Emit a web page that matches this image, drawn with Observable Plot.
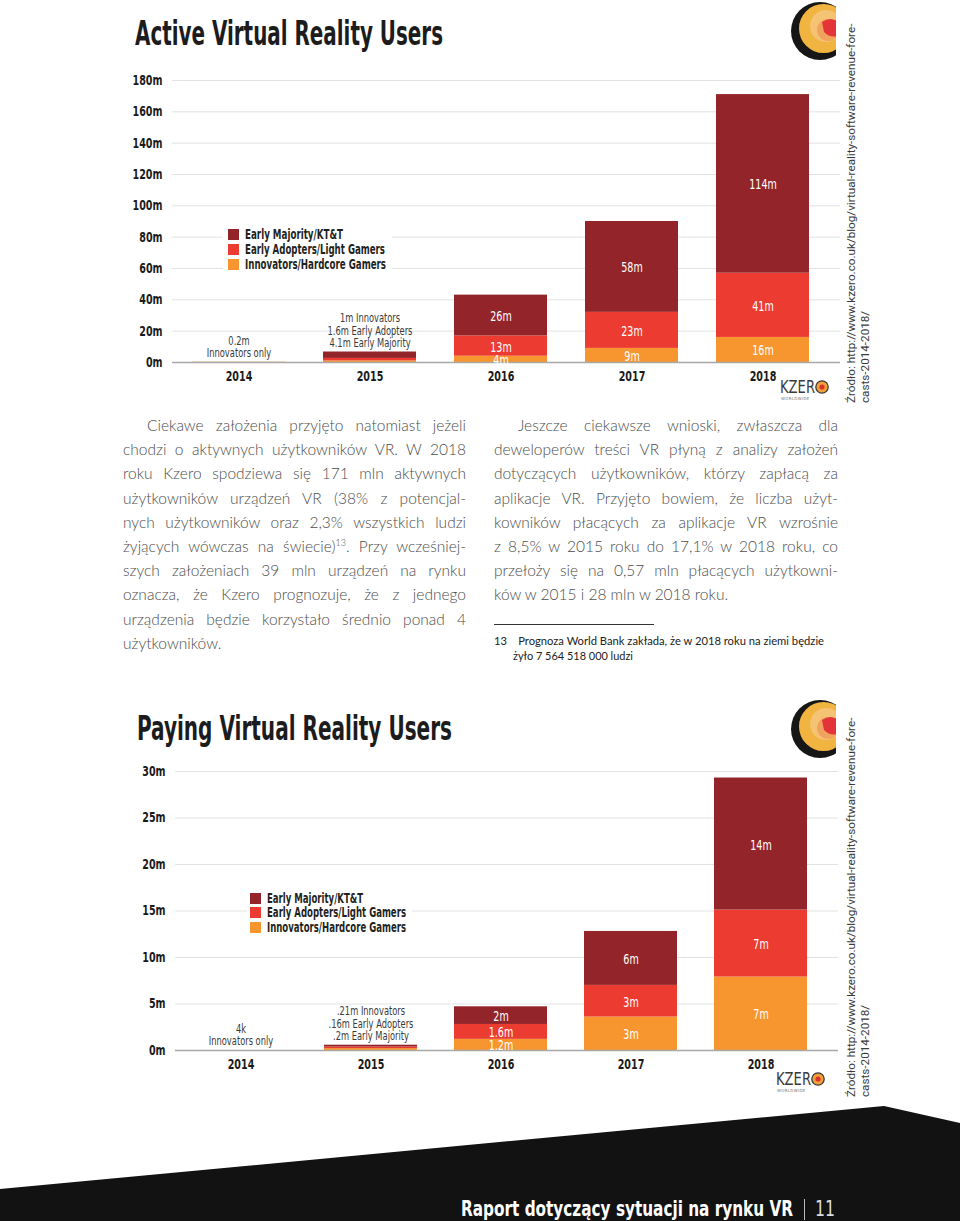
<!DOCTYPE html>
<html><head><meta charset="utf-8">
<script src="https://cdn.jsdelivr.net/npm/d3@7"></script>
<script src="https://cdn.jsdelivr.net/npm/@observablehq/plot@0.6"></script>
<style>
html,body{margin:0;padding:0;background:#fff;}
#page{position:relative;width:960px;height:1221px;overflow:hidden;background:#fff;}
.abs{position:absolute;}
.cond{font-family:"Liberation Sans Narrow","DejaVu Sans Condensed","Arial Narrow",sans-serif;}
.title{font-weight:bold;font-size:34px;color:#1c1c1c;white-space:nowrap;line-height:1;transform-origin:left center;}
.fit{display:inline-block;white-space:nowrap;transform-origin:left center;}
.legend{background:#fff;z-index:3;}
.legend .sw{position:absolute;width:11px;height:11px;}
.legend .lt{position:absolute;font-weight:bold;font-size:14px;color:#231f20;line-height:14px;}
.col{font-family:Lato,"Open Sans",sans-serif;font-weight:300;font-size:15.5px;color:#4d4d4d;line-height:24.2px;}
.col .ln{display:block;white-space:nowrap;height:24.2px;}
.col .ln span{display:inline-block;white-space:nowrap;}
.src{font-family:Roboto,"Open Sans",sans-serif;font-weight:400;font-size:11.7px;color:#3a3a3a;line-height:13.5px;transform-origin:left top;transform:rotate(-90deg);white-space:nowrap;}
.fn{font-family:Lato,sans-serif;font-weight:400;font-size:12px;color:#222;line-height:15px;white-space:nowrap;}
.chart{z-index:1;}
.kz{font-family:"DejaVu Sans Condensed","Liberation Sans Narrow",sans-serif;font-size:17px;color:#3a3a3a;line-height:1;z-index:3;}
.kzw{font-family:"DejaVu Sans",sans-serif;font-size:4px;color:#777;letter-spacing:0.3px;line-height:1;}
</style></head>
<body>
<div id="page"></div>
<script>
// ---------- DATA ----------
const years = ["2014", "2015", "2016", "2017", "2018"];
const series = ["Early Majority/KT&T", "Early Adopters/Light Gamers", "Innovators/Hardcore Gamers"];
const seriesColors = ["#93252a", "#ec3b31", "#f7962f"];
const stackOrder = ["Innovators/Hardcore Gamers", "Early Adopters/Light Gamers", "Early Majority/KT&T"];

// Active Virtual Reality Users (millions)
const activeInnovators = [0.2, 1, 4, 9, 16];
const activeAdopters = [0, 1.6, 13, 23, 41];
const activeMajority = [0, 4.1, 26, 58, 114];
const activeInnovatorLabels = ["", "", "4m", "9m", "16m"];
const activeAdopterLabels = ["", "", "13m", "23m", "41m"];
const activeMajorityLabels = ["", "", "26m", "58m", "114m"];
const activeTicks = [0, 20, 40, 60, 80, 100, 120, 140, 160, 180];
const activeNoteYears = ["2014", "2015"];
const activeNotes = ["0.2m\nInnovators only", "1m Innovators\n1.6m Early Adopters\n4.1m Early Majority"];

// Paying Virtual Reality Users (millions)
const payInnovators = [0.004, 0.21, 1.2, 3.6, 7.9];
const payAdopters = [0, 0.16, 1.6, 3.4, 7.2];
const payMajority = [0, 0.2, 1.9, 5.8, 14.2];
const payInnovatorLabels = ["", "", "1.2m", "3m", "7m"];
const payAdopterLabels = ["", "", "1.6m", "3m", "7m"];
const payMajorityLabels = ["", "", "2m", "6m", "14m"];
const payTicks = [0, 5, 10, 15, 20, 25, 30];
const payNoteYears = ["2014", "2015"];
const payNotes = ["4k\nInnovators only", ".21m Innovators\n.16m Early Adopters\n.2m Early Majority"];

const sourceLines = ["Źródło: http://www.kzero.co.uk/blog/virtual-reality-software-revenue-fore-", "casts-2014-2018/"];

// ---------- HELPERS ----------
const COND = '"Liberation Sans Narrow","DejaVu Sans Condensed","Arial Narrow",sans-serif';
const page = document.getElementById("page");
function el(tag, cls, css, html) {
  const e = document.createElement(tag);
  if (cls) e.className = cls;
  if (css) e.style.cssText = css;
  if (html != null) e.innerHTML = html;
  page.appendChild(e);
  return e;
}
function buildRows(inn, ad, maj, innL, adL, majL) {
  const rows = [];
  years.forEach((y, i) => {
    rows.push({year: y, series: series[2], value: inn[i], label: innL[i]});
    rows.push({year: y, series: series[1], value: ad[i], label: adL[i]});
    rows.push({year: y, series: series[0], value: maj[i], label: majL[i]});
  });
  return rows;
}
function squeeze(nodes, sx) {
  nodes.forEach(t => {
    const tr = t.getAttribute("transform") || "";
    t.setAttribute("transform", tr + ` scale(${sx},1)`);
  });
}
function chart(o) {
  const labeled = o.rows.filter(d => d.label);
  const totals = d3.rollup(o.rows, v => d3.sum(v, d => d.value), d => d.year);
  const notes = o.noteYears.map((y, i) => ({year: y, note: o.notes[i], total: totals.get(y)}));
  const svg = Plot.plot({
    width: 960, height: o.h,
    marginTop: o.mt, marginBottom: o.mb, marginLeft: o.ml, marginRight: o.mr,
    style: {fontFamily: COND, fontSize: "13px", overflow: "visible", background: "transparent"},
    x: {domain: years, paddingInner: o.pin, paddingOuter: o.pout, align: o.align, label: null},
    y: {domain: [0, o.ticks[o.ticks.length - 1]], label: null},
    color: {domain: series, range: seriesColors},
    marks: [
      Plot.ruleY(o.ticks.slice(1), {stroke: "#e2e2e2", strokeWidth: 1}),
      Plot.axisY(o.ticks, {tickSize: 0, tickPadding: o.tp, tickFormat: d => d + "m", fontWeight: "bold", fontSize: 14, fill: "#1a1a1a", label: null}),
      Plot.barY(o.rows, Plot.stackY({x: "year", y: "value", fill: "series", order: stackOrder})),
      Plot.ruleY([0], {stroke: "#a8a8a8", strokeWidth: 1.5}),
      Plot.text(labeled, Plot.stackY({x: "year", y: "value", z: "series", order: stackOrder, text: "label", fill: "white", fontSize: 14, dy: 1})),
      Plot.text(notes, {x: "year", y: "total", text: "note", lineAnchor: "bottom", dy: -5, fontSize: 12.5, lineHeight: 1, fill: "#3a3a3a"}),
      Plot.axisX({tickSize: 0, tickPadding: 9, fontWeight: "bold", fontSize: 14, fill: "#1a1a1a", label: null})
    ]
  });
  const textGroups = svg.querySelectorAll('g[aria-label="text"]');
  if (textGroups[0]) squeeze(textGroups[0].querySelectorAll("text"), 0.76);
  if (textGroups[1]) squeeze(textGroups[1].querySelectorAll("text"), 0.74);
  svg.querySelectorAll('g[aria-label$="tick label"] text').forEach(t => squeeze([t], 0.76));
  return svg;
}
function legend(x, y, w, h, sx, tx, rowsY, widths) {
  const L = el("div", "abs legend cond", `left:${x}px;top:${y}px;width:${w}px;height:${h}px;`);
  series.forEach((s, i) => {
    const sw = document.createElement("div");
    sw.className = "sw";
    sw.style.cssText = `left:${sx - x}px;top:${rowsY[i] - y - 5.5}px;background:${seriesColors[i]};`;
    L.appendChild(sw);
    const t = document.createElement("div");
    t.className = "lt fit";
    t.style.cssText = `left:${tx - x}px;top:${rowsY[i] - y - 7.5}px;`;
    t.dataset.w = widths[i];
    t.textContent = s;
    L.appendChild(t);
  });
}
function cornerLogo(top) {
  const s = `<svg width="52" height="62" viewBox="0 0 52 62"><defs><clipPath id="c${top}"><rect x="0" y="0" width="50" height="62"/></clipPath></defs>
  <g clip-path="url(#c${top})">
  <circle cx="34" cy="31" r="29" fill="#161616"/>
  <circle cx="37.5" cy="28.5" r="24.5" fill="#f2b441"/>
  <circle cx="40" cy="26" r="16" fill="#f6c98a" opacity="0.7"/>
  <circle cx="42" cy="30" r="11" fill="#f09a57" opacity="0.8"/>
  <path d="M36 22 Q45 16 52 22 L52 36 Q44 38 38 32 Z" fill="#e3343a"/>
  </g></svg>`;
  el("div", "abs", `left:786px;top:${top}px;width:52px;height:62px;`, s);
}
function kzero(x, y) {
  el("div", "abs kz fit", `left:${x}px;top:${y}px;`, "KZER").dataset.w = 35;
  el("div", "abs", `left:${x + 35}px;top:${y + 1}px;width:14px;height:14px;z-index:3;`,
    `<svg width="14" height="14"><circle cx="7" cy="7" r="6.2" fill="#f3a03a" stroke="#3a3a3a" stroke-width="1.3"/><circle cx="7" cy="7" r="2.6" fill="#d8342b"/></svg>`);
  el("div", "abs kzw", `left:${x + 1}px;top:${y + 18}px;`, "WORLDWIDE");
}

// ---------- CHART 1 ----------
el("div", "abs title cond fit", "left:135px;top:16px;", "Active Virtual Reality Users").dataset.w = 308;
const c1 = el("div", "abs chart", "left:0px;top:60px;");
c1.appendChild(chart({
  rows: buildRows(activeInnovators, activeAdopters, activeMajority, activeInnovatorLabels, activeAdopterLabels, activeMajorityLabels),
  noteYears: activeNoteYears, notes: activeNotes, ticks: activeTicks,
  h: 340, mt: 20, mb: 38, ml: 172, mr: 120, tp: 10, pin: 0.29, pout: 0.179, align: 0.385
}));
legend(223, 225, 169, 48, 228, 245, [234.5, 249.5, 264.5], [98, 140, 141]);
kzero(780, 379);
cornerLogo(0);

// ---------- CHART 2 ----------
el("div", "abs title cond fit", "left:137px;top:711px;", "Paying Virtual Reality Users").dataset.w = 315;
const c2 = el("div", "abs chart", "left:0px;top:750px;");
c2.appendChild(chart({
  rows: buildRows(payInnovators, payAdopters, payMajority, payInnovatorLabels, payAdopterLabels, payMajorityLabels),
  noteYears: payNoteYears, notes: payNotes, ticks: payTicks,
  h: 340, mt: 21, mb: 40, ml: 175, mr: 122, tp: 10, pin: 0.285, pout: 0.19, align: 0.374
}));
legend(247, 888, 165, 50, 250, 267, [898, 912, 927.5], [96, 139, 139]);
kzero(776, 1071);
cornerLogo(698);

// ---------- SOURCE (rotated) ----------
el("div", "abs src", "left:845px;top:403px;", sourceLines.join("<br>"));
el("div", "abs src", "left:845px;top:1097px;", sourceLines.join("<br>"));

// ---------- BODY TEXT ----------
const leftLines = [
  "Ciekawe założenia przyjęto natomiast jeżeli",
  "chodzi o aktywnych użytkowników VR. W 2018",
  "roku Kzero spodziewa się 171 mln aktywnych",
  "użytkowników urządzeń VR (38% z potencjal-",
  "nych użytkowników oraz 2,3% wszystkich ludzi",
  "żyjących wówczas na świecie)<sup style=\"font-size:9px;position:relative;top:-6px;vertical-align:baseline;\">13</sup>. Przy wcześniej-",
  "szych założeniach 39 mln urządzeń na rynku",
  "oznacza, że Kzero prognozuje, że z jednego",
  "urządzenia będzie korzystało średnio ponad 4",
  "użytkowników."
];
const rightLines = [
  "Jeszcze ciekawsze wnioski, zwłaszcza dla",
  "deweloperów treści VR płyną z analizy założeń",
  "dotyczących użytkowników, którzy zapłacą za",
  "aplikacje VR. Przyjęto bowiem, że liczba użyt-",
  "kowników płacących za aplikacje VR wzrośnie",
  "z 8,5% w 2015 roku do 17,1% w 2018 roku, co",
  "przełoży się na 0,57 mln płacących użytkowni-",
  "ków w 2015 i 28 mln w 2018 roku."
];
function column(x, w, lines) {
  const c = el("div", "abs col", `left:${x}px;top:413px;width:${w}px;`);
  lines.forEach((t, i) => {
    const ln = document.createElement("div");
    ln.className = "ln";
    const sp = document.createElement("span");
    sp.innerHTML = t;
    if (i === 0) sp.style.marginLeft = "24px";
    ln.appendChild(sp);
    c.appendChild(ln);
    sp.dataset.just = i === lines.length - 1 ? "0" : String(w - (i === 0 ? 24 : 0));
  });
}
column(123, 343, leftLines);
column(494, 344, rightLines);

// footnote
el("div", "abs", "left:494px;top:624px;width:160px;height:1px;background:#333;");
el("div", "abs fn fit", "left:494px;top:633px;",
  "13<span style=\"display:inline-block;width:12px\"></span>Prognoza World Bank zakłada, że w 2018 roku na ziemi będzie").dataset.w = 330;
el("div", "abs fn fit", "left:513px;top:648px;", "żyło 7 564 518 000 ludzi").dataset.w = 120;

// ---------- FOOTER ----------
el("div", "abs", "left:0;top:1090px;width:960px;height:131px;",
  `<svg width="960" height="131"><polygon points="0,99 884,16 960,33 960,131 0,131" fill="#121212"/></svg>`);
el("div", "abs cond fit", "left:461px;top:1199px;font-weight:bold;font-size:21px;color:#fff;line-height:1;", "Raport dotyczący sytuacji na rynku VR").dataset.w = 332;
el("div", "abs", "left:804px;top:1199px;width:1px;height:21px;background:#bbb;");
el("div", "abs cond fit", "left:815px;top:1199px;font-size:21px;color:#ddd;line-height:1;", "11").dataset.w = 20;

// ---------- FIT ----------
function fitAll() {
  document.querySelectorAll("[data-w]").forEach(e => {
    e.style.transform = "none";
    const w = e.getBoundingClientRect().width;
    if (w > 0) e.style.transform = `scaleX(${(+e.dataset.w) / w})`;
  });
  document.querySelectorAll("[data-just]").forEach(sp => {
    const target = +sp.dataset.just;
    sp.style.wordSpacing = "0px";
    if (!target) return;
    const w = sp.getBoundingClientRect().width;
    const n = (sp.textContent.match(/ /g) || []).length;
    if (n > 0) sp.style.wordSpacing = ((target - w) / n) + "px";
  });
}
fitAll();
if (document.fonts && document.fonts.ready) document.fonts.ready.then(fitAll);
</script>
</body></html>
